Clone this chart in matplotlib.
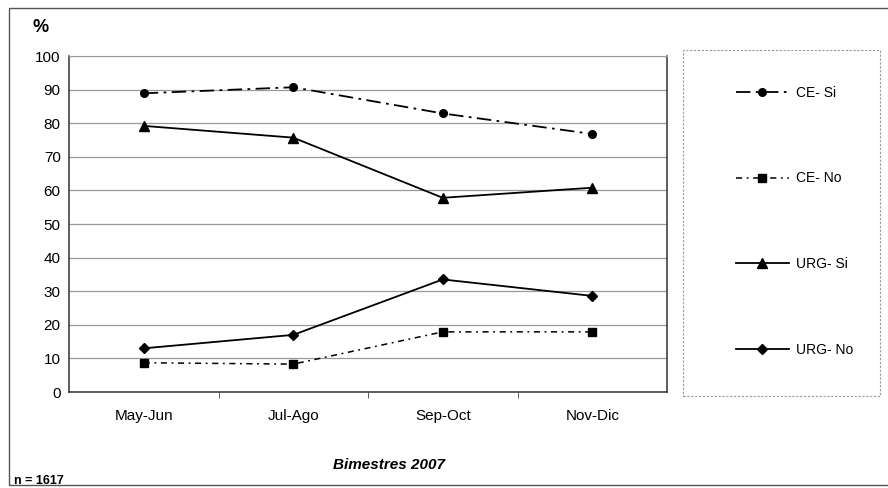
import numpy as np
import matplotlib.pyplot as plt
from matplotlib.patches import Rectangle

plt.rcParams['font.family'] = ['Liberation Sans', 'DejaVu Sans']

bimestres = ["May-Jun", "Jul-Ago", "Sep-Oct", "Nov-Dic"]
ce_si = [88.9, 90.7, 82.9, 76.8]
ce_no = [8.7, 8.3, 17.9, 17.9]
urg_si = [79.2, 75.7, 57.8, 60.8]
urg_no = [13.0, 17.0, 33.5, 28.6]
yticks = list(range(0, 101, 10))

fig = plt.figure(figsize=(8.88, 4.88), dpi=100)

# outer frame of the chart
fig.patches.append(Rectangle((9/888, 3/488), 0.995, 477/488, transform=fig.transFigure,
                             fill=False, edgecolor='#555555', lw=1.0))
# legend box
fig.patches.append(Rectangle((683/888, (488-396)/488), 197/888, 346/488,
                             transform=fig.transFigure, fill=False,
                             edgecolor='#999999', lw=0.8, linestyle=(0, (2, 1.5))))

ax = fig.add_axes([69/888, (488-392)/488, 598/888, 336/488])
x = np.arange(len(bimestres))

ax.plot(x, ce_si, color='black', lw=1.3, linestyle=(0, (8, 3, 1.5, 3)),
        marker='o', ms=5.5, label='CE- Si')
ax.plot(x, ce_no, color='black', lw=1.1, linestyle=(0, (4, 3, 1.2, 3)),
        marker='s', ms=5.5, label='CE- No')
ax.plot(x, urg_si, color='black', lw=1.3, marker='^', ms=6.5, label='URG- Si')
ax.plot(x, urg_no, color='black', lw=1.3, marker='D', ms=5, label='URG- No')

ax.set_xlim(-0.5, len(bimestres) - 0.5)
ax.set_ylim(0, 100)
ax.set_yticks(yticks)
ax.set_yticklabels([str(v) for v in yticks], fontsize=11)
ax.set_xticks(x)
ax.set_xticklabels(bimestres, fontsize=11)
ax.set_xticks(np.arange(0.5, len(bimestres) - 1, 1), minor=True)
ax.tick_params(axis='x', which='major', length=0, pad=12)
ax.tick_params(axis='x', which='minor', length=4, direction='out', color='#444444')
ax.tick_params(axis='y', length=0, pad=6)
ax.grid(axis='y', color='#9a9a9a', lw=0.9)
ax.set_axisbelow(True)
for side in ['left', 'bottom', 'right']:
    ax.spines[side].set_color('#333333')
    ax.spines[side].set_linewidth(1.1)
ax.spines['top'].set_color('#999999')

fig.text(32/888, 1 - 28/488, '%', fontsize=13, fontweight='bold', va='center', ha='left')
fig.text(389/888, 1 - 465/488, 'Bimestres 2007', fontsize=11, fontweight='bold',
         style='italic', ha='center', va='center')
fig.text(14/888, 1 - 481/488, 'n = 1617', fontsize=9, fontweight='bold',
         ha='left', va='center')

fig.legend(loc='upper left', bbox_to_anchor=(729/888, 1 - 79/488), frameon=False,
           fontsize=10, handlelength=3.8, handletextpad=0.5, labelspacing=5.15,
           borderpad=0)

fig.savefig('out.png', dpi=100)
